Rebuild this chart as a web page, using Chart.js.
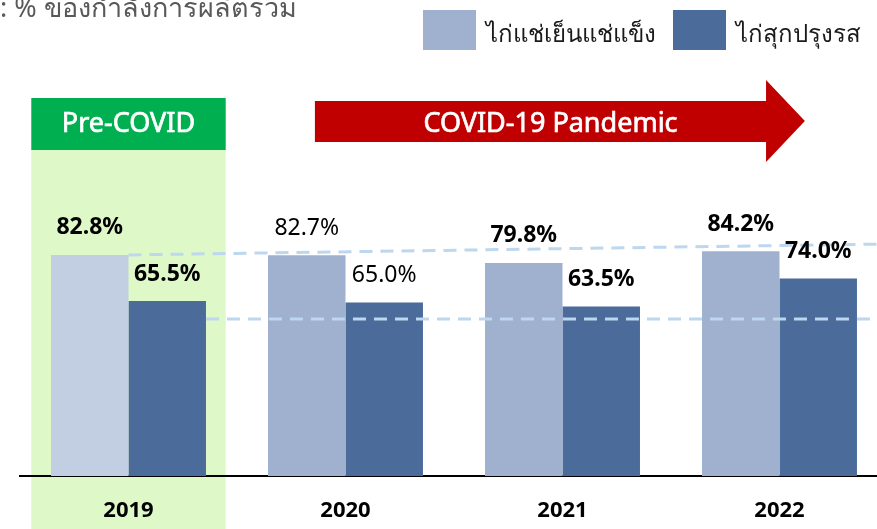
<!DOCTYPE html>
<html>
<head>
<meta charset="utf-8">
<script src="https://cdn.jsdelivr.net/npm/chart.js@4.4.1/dist/chart.umd.min.js"></script>
<style>
  html, body { margin: 0; padding: 0; background: #ffffff; overflow: hidden; }
  #wrap { width: 877px; height: 529px; position: relative; overflow: hidden; }
  #c { position: absolute; left: 0; top: 0; }
</style>
</head>
<body>
<div id="wrap"><canvas id="c" width="888" height="529"></canvas></div>
<script>
// ---- data ----
const categories = ['2019', '2020', '2021', '2022'];
const seriesNames = ['ไก่แช่เย็นแช่แข็ง', 'ไก่สุกปรุงรส'];
const chilledFrozen = [82.8, 82.7, 79.8, 84.2];
const cookedSeasoned = [65.5, 65.0, 63.5, 74.0];
const labelBold = [true, false, true, true];
const unitText = ': % ของกำลังการผลิตรวม';
const preCovidText = 'Pre-COVID';
const pandemicText = 'COVID-19 Pandemic';
const upperRef = [82.8, 86.9];   // dashed reference line (start, end value)
const lowerRef = 58.8;           // dashed reference line value

// ---- styles ----
const lightColors = ['#C2CEE1', '#9FB1CF', '#9FB1CF', '#9FB1CF'];
const darkColor = '#4B6B9B';
const FONT = '"Noto Sans", "Open Sans", sans-serif';

function heavyText(ctx, text, x, y) {
  ctx.strokeStyle = ctx.fillStyle;
  ctx.lineWidth = 0.7;
  ctx.strokeText(text, x, y);
  ctx.fillText(text, x, y);
}

const decorPlugin = {
  id: 'decor',
  beforeDraw(chart) {
    const ctx = chart.ctx;
    const x = chart.scales.x;
    const cw = x.getPixelForValue(1) - x.getPixelForValue(0);
    const c0 = x.getPixelForValue(0);
    ctx.save();
    // pre-covid band
    ctx.fillStyle = '#DFF8C8';
    ctx.fillRect(c0 - 0.448 * cw, 150, 0.896 * cw, chart.height - 150);
    ctx.fillStyle = '#00B050';
    ctx.fillRect(c0 - 0.448 * cw, 98, 0.896 * cw, 52);
    ctx.fillStyle = '#ffffff';
    ctx.font = '27px ' + FONT;
    ctx.textAlign = 'center';
    ctx.textBaseline = 'alphabetic';
    heavyText(ctx, preCovidText, c0, 132);
    // arrow
    const a0 = x.getPixelForValue(0.859);
    const a1 = x.getPixelForValue(2.938);
    const a2 = x.getPixelForValue(3.117);
    ctx.fillStyle = '#C00000';
    ctx.beginPath();
    ctx.moveTo(a0, 101);
    ctx.lineTo(a1, 101);
    ctx.lineTo(a1, 80);
    ctx.lineTo(a2, 121);
    ctx.lineTo(a1, 162);
    ctx.lineTo(a1, 142);
    ctx.lineTo(a0, 142);
    ctx.closePath();
    ctx.fill();
    ctx.fillStyle = '#ffffff';
    heavyText(ctx, pandemicText, (a0 + a1) / 2 + 10, 132);
    ctx.restore();
  },
  afterDatasetsDraw(chart) {
    const ctx = chart.ctx;
    const y = chart.scales.y;
    const m0 = chart.getDatasetMeta(0), m1 = chart.getDatasetMeta(1);
    ctx.save();
    // dashed reference lines
    ctx.strokeStyle = '#BDD7EE';
    ctx.lineWidth = 3;
    ctx.setLineDash([13, 8]);
    const bar0 = m0.data[0];
    ctx.beginPath();
    ctx.moveTo(bar0.x + bar0.width / 2, y.getPixelForValue(upperRef[0]));
    ctx.lineTo(chart.width, y.getPixelForValue(upperRef[1]));
    ctx.stroke();
    const bar1 = m1.data[0];
    ctx.beginPath();
    ctx.moveTo(bar1.x + bar1.width / 2, y.getPixelForValue(lowerRef));
    ctx.lineTo(chart.width, y.getPixelForValue(lowerRef));
    ctx.stroke();
    ctx.setLineDash([]);
    // value labels
    ctx.fillStyle = '#000000';
    ctx.textAlign = 'center';
    ctx.textBaseline = 'alphabetic';
    [m0, m1].forEach((meta, di) => {
      const vals = di === 0 ? chilledFrozen : cookedSeasoned;
      meta.data.forEach((bar, i) => {
        ctx.font = (labelBold[i] ? 'bold ' : '') + '23px ' + FONT;
        ctx.fillText(vals[i].toFixed(1) + '%', bar.x, bar.y - 20.5);
      });
    });
    // unit text
    ctx.textAlign = 'left';
    ctx.fillStyle = '#595959';
    ctx.font = '27px ' + FONT;
    ctx.fillText(unitText, 0, 17);
    // legend
    ctx.font = '24px ' + FONT;
    const legendItems = [
      { x: 423, color: lightColors[1], text: seriesNames[0] },
      { x: 673, color: darkColor, text: seriesNames[1] }
    ];
    legendItems.forEach(it => {
      ctx.fillStyle = it.color;
      ctx.fillRect(it.x, 10, 53, 40);
      ctx.fillStyle = '#1a1a1a';
      ctx.fillText(it.text, it.x + 63, 42);
    });
    ctx.restore();
  }
};

new Chart(document.getElementById('c'), {
  type: 'bar',
  data: {
    labels: categories,
    datasets: [
      { label: seriesNames[0], data: chilledFrozen, backgroundColor: lightColors,
        barPercentage: 1, categoryPercentage: 0.714, borderWidth: 0 },
      { label: seriesNames[1], data: cookedSeasoned, backgroundColor: darkColor,
        barPercentage: 1, categoryPercentage: 0.714, borderWidth: 0 }
    ]
  },
  options: {
    responsive: false,
    animation: false,
    layout: { padding: { left: 20, right: 0, top: 75.5, bottom: 0 } },
    plugins: { legend: { display: false }, tooltip: { enabled: false } },
    scales: {
      x: {
        grid: { display: false, drawTicks: false },
        border: { display: true, color: '#000000', width: 2 },
        ticks: { color: '#000000', font: { family: FONT, size: 22, weight: 'bold' }, padding: 22 },
        afterFit(scale) { scale.height = 53; }
      },
      y: {
        display: false,
        min: 0,
        max: 150
      }
    }
  },
  plugins: [decorPlugin]
});
</script>
</body>
</html>
